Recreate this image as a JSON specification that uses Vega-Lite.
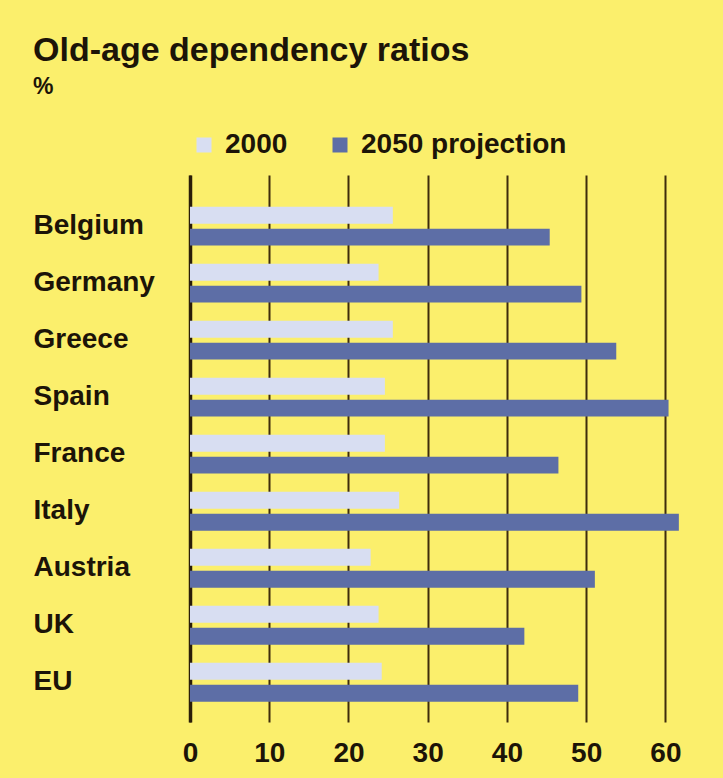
{
  "$schema": "https://vega.github.io/schema/vega-lite/v6.json",
  "autosize": {"type": "none"},
  "width": 515,
  "height": 547,
  "padding": {"left": 190, "top": 175, "right": 18, "bottom": 56},
  "background": "#fbef6c",
  "title": {
    "text": "Old-age dependency ratios",
    "subtitle": "%",
    "anchor": "start",
    "frame": "group",
    "orient": "top",
    "dx": -157,
    "offset": 32,
    "font": "Liberation Sans",
    "fontSize": 34,
    "fontWeight": "bold",
    "color": "#1c1408",
    "subtitleFont": "Liberation Sans",
    "subtitleFontSize": 23,
    "subtitleFontWeight": "bold",
    "subtitleColor": "#1c1408",
    "subtitlePadding": 8
  },
  "data": {
    "values": [
      {"country": "Belgium", "series": "2000", "value": 25.6},
      {"country": "Belgium", "series": "2050 projection", "value": 45.4},
      {"country": "Germany", "series": "2000", "value": 23.8},
      {"country": "Germany", "series": "2050 projection", "value": 49.4},
      {"country": "Greece", "series": "2000", "value": 25.6},
      {"country": "Greece", "series": "2050 projection", "value": 53.8},
      {"country": "Spain", "series": "2000", "value": 24.6},
      {"country": "Spain", "series": "2050 projection", "value": 60.4},
      {"country": "France", "series": "2000", "value": 24.6},
      {"country": "France", "series": "2050 projection", "value": 46.5},
      {"country": "Italy", "series": "2000", "value": 26.4},
      {"country": "Italy", "series": "2050 projection", "value": 61.7},
      {"country": "Austria", "series": "2000", "value": 22.8},
      {"country": "Austria", "series": "2050 projection", "value": 51.1},
      {"country": "UK", "series": "2000", "value": 23.8},
      {"country": "UK", "series": "2050 projection", "value": 42.2},
      {"country": "EU", "series": "2000", "value": 24.2},
      {"country": "EU", "series": "2050 projection", "value": 49.0}
    ]
  },
  "mark": {"type": "bar", "cornerRadius": 0},
  "encoding": {
    "y": {
      "field": "country",
      "type": "nominal",
      "sort": null,
      "scale": {"paddingInner": 0.32, "paddingOuter": 0.458, "align": 0.61},
      "axis": {
        "title": null,
        "domain": true,
        "domainColor": "#2a1d08",
        "domainWidth": 3.5,
        "ticks": false,
        "labelAlign": "left",
        "labelPadding": 157,
        "labelFont": "Liberation Sans",
        "labelFontSize": 28,
        "labelFontWeight": "bold",
        "labelColor": "#1c1408"
      }
    },
    "yOffset": {
      "field": "series",
      "type": "nominal",
      "scale": {"paddingInner": 0.23, "paddingOuter": 0}
    },
    "x": {
      "field": "value",
      "type": "quantitative",
      "scale": {"domain": [0, 65], "nice": false},
      "axis": {
        "title": null,
        "values": [0, 10, 20, 30, 40, 50, 60],
        "domain": false,
        "ticks": false,
        "grid": true,
        "gridColor": "#3e2c0c",
        "gridWidth": 2,
        "gridOpacity": 1,
        "labelPadding": 17,
        "labelFont": "Liberation Sans",
        "labelFontSize": 28,
        "labelFontWeight": "bold",
        "labelColor": "#1c1408",
        "labelFlush": false
      }
    },
    "color": {
      "field": "series",
      "type": "nominal",
      "scale": {"domain": ["2000", "2050 projection"], "range": ["#d8def2", "#5d6ea6"]},
      "legend": {
        "title": null,
        "orient": "none",
        "direction": "horizontal",
        "legendX": 0,
        "legendY": -44,
        "symbolType": "square",
        "symbolSize": 225,
        "symbolStrokeWidth": 0,
        "labelFont": "Liberation Sans",
        "labelFontSize": 28,
        "labelFontWeight": "bold",
        "labelColor": "#1c1408",
        "labelOffset": 7,
        "labelLimit": 400,
        "columnPadding": 38,
        "symbolOpacity": 1
      }
    }
  },
  "config": {
    "view": {"stroke": null}
  }
}
